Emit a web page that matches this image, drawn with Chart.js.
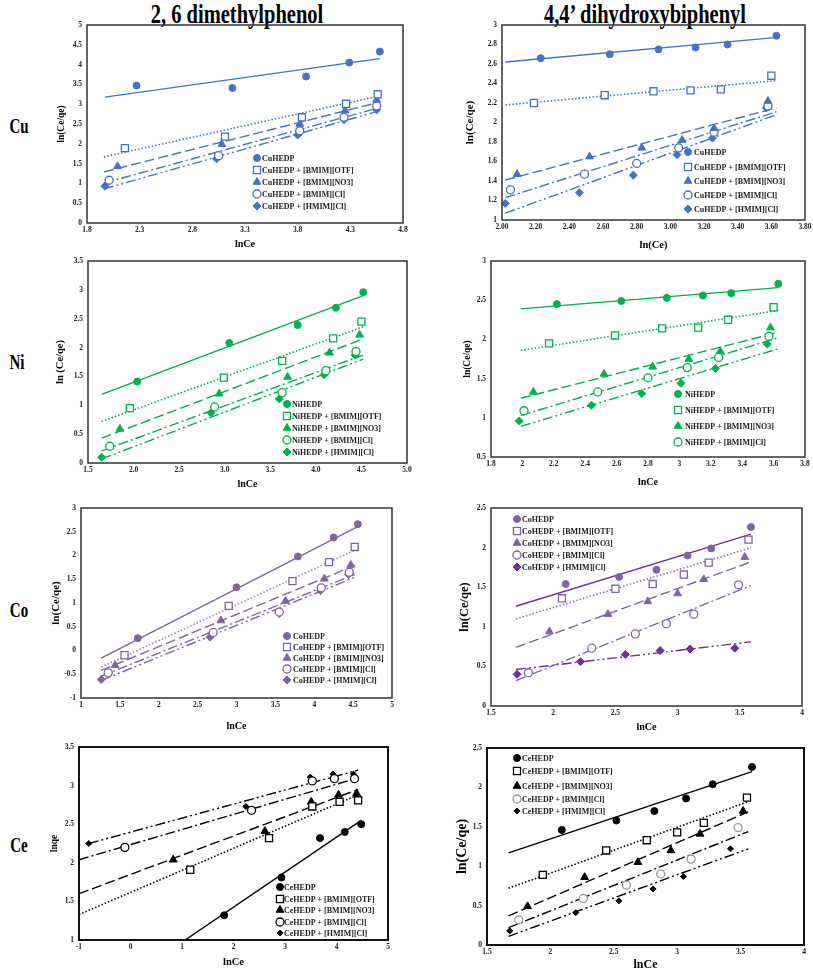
<!DOCTYPE html>
<html><head><meta charset="utf-8">
<script src="https://cdn.jsdelivr.net/npm/chart.js@4.4.1/dist/chart.umd.min.js"></script>
<style>
html,body{margin:0;padding:0;background:#fff;}
body{width:813px;height:970px;position:relative;overflow:hidden;font-family:'Liberation Serif','Times New Roman',serif;}
canvas{position:absolute;}
.t{position:absolute;font-weight:bold;white-space:nowrap;color:#000;line-height:1;}
</style></head><body>
<div class="t" style="left:237px;top:14px;font-size:20.5px;transform:translate(-50%,-50%) scale(1,1.3);">2, 6 dimethylphenol</div>
<div class="t" style="left:645px;top:14px;font-size:20.5px;transform:translate(-50%,-50%) scale(1,1.3);">4,4’ dihydroxybiphenyl</div>
<div class="t" style="left:19px;top:127px;font-size:15px;transform:translate(-50%,-50%) scale(1,1.35);">Cu</div>
<div class="t" style="left:17px;top:363px;font-size:15px;transform:translate(-50%,-50%) scale(1,1.35);">Ni</div>
<div class="t" style="left:19px;top:611px;font-size:15px;transform:translate(-50%,-50%) scale(1,1.35);">Co</div>
<div class="t" style="left:19px;top:846px;font-size:15px;transform:translate(-50%,-50%) scale(1,1.35);">Ce</div>
<script>
// ---------- labels ----------
const SERIES_SUFFIX = ['', ' + [BMIM][OTF]', ' + [BMIM][NO3]', ' + [BMIM][Cl]', ' + [HMIM][Cl]'];

// ---------- Cu, 2,6 dimethylphenol (x: lnCe, y: ln(Ce/qe)) ----------
const cuDmpHEDP = [[2.27,3.47],[3.18,3.41],[3.88,3.70],[4.29,4.05],[4.58,4.33]];
const cuDmpOTF  = [[2.16,1.89],[3.11,2.18],[3.84,2.67],[4.26,3.01],[4.56,3.25]];
const cuDmpNO3  = [[2.09,1.43],[3.08,1.99],[3.82,2.50],[4.25,2.84],[4.55,3.11]];
const cuDmpBCl  = [[2.01,1.08],[3.05,1.70],[3.82,2.33],[4.24,2.67],[4.55,2.96]];
const cuDmpHCl  = [[1.97,0.93],[3.03,1.62],[3.80,2.22],[4.24,2.61],[4.55,2.86]];
const cuDmpTrend = [[1.97,3.18,4.58,4.15],[1.96,1.67,4.56,3.20],[1.96,1.29,4.56,3.04],[1.96,1.01,4.56,2.90],[1.96,0.86,4.56,2.82]];

// ---------- Cu, 4,4' dihydroxybiphenyl ----------
const cuDhbHEDP = [[2.23,2.66],[2.64,2.70],[2.93,2.75],[3.15,2.77],[3.34,2.80],[3.63,2.89]];
const cuDhbOTF  = [[2.19,2.20],[2.61,2.28],[2.90,2.32],[3.12,2.33],[3.30,2.34],[3.60,2.48]];
const cuDhbNO3  = [[2.09,1.47],[2.52,1.65],[2.83,1.74],[3.07,1.82],[3.26,1.94],[3.58,2.22]];
const cuDhbBCl  = [[2.05,1.31],[2.49,1.47],[2.80,1.58],[3.05,1.74],[3.26,1.90],[3.58,2.17]];
const cuDhbHCl  = [[2.02,1.17],[2.46,1.28],[2.78,1.46],[3.04,1.67],[3.25,1.84],[3.57,2.15]];
const cuDhbTrend = [[2.02,2.62,3.62,2.87],[2.02,2.18,3.63,2.43],[2.02,1.41,3.63,2.15],[2.02,1.23,3.63,2.11],[2.02,1.07,3.63,2.08]];

// ---------- Ni, 2,6 dimethylphenol ----------
const niDmpHEDP = [[2.04,1.41],[3.05,2.08],[3.80,2.39],[4.22,2.69],[4.52,2.96]];
const niDmpOTF  = [[1.96,0.95],[2.99,1.48],[3.63,1.77],[4.19,2.16],[4.50,2.45]];
const niDmpNO3  = [[1.85,0.59],[2.94,1.20],[3.69,1.49],[4.15,1.91],[4.48,2.22]];
const niDmpBCl  = [[1.74,0.29],[2.89,0.97],[3.63,1.22],[4.11,1.60],[4.44,1.93]];
const niDmpHCl  = [[1.65,0.10],[2.85,0.87],[3.60,1.11],[4.09,1.53],[4.43,1.87]];
const niDmpTrend = [[1.65,1.19,4.52,2.90],[1.65,0.72,4.52,2.36],[1.65,0.43,4.52,2.15],[1.65,0.21,4.52,1.87],[1.65,0.07,4.52,1.80]];

// ---------- Ni, 4,4' dihydroxybiphenyl ----------
const niDhbHEDP = [[2.22,2.45],[2.63,2.49],[2.92,2.53],[3.15,2.56],[3.33,2.59],[3.63,2.71]];
const niDhbOTF  = [[2.17,1.95],[2.59,2.05],[2.89,2.14],[3.12,2.15],[3.31,2.25],[3.60,2.41]];
const niDhbNO3  = [[2.07,1.33],[2.52,1.56],[2.83,1.65],[3.06,1.75],[3.26,1.85],[3.58,2.15]];
const niDhbBCl  = [[2.01,1.09],[2.48,1.33],[2.80,1.51],[3.05,1.64],[3.25,1.77],[3.57,2.04]];
const niDhbHCl  = [[1.98,0.96],[2.44,1.16],[2.76,1.31],[3.01,1.44],[3.23,1.63],[3.56,1.94]];
const niDhbTrend = [[1.99,2.39,3.63,2.66],[1.99,1.86,3.63,2.37],[1.99,1.25,3.63,2.09],[1.99,1.03,3.63,2.02],[1.99,0.89,3.63,1.88]];

// ---------- Co, 2,6 dimethylphenol ----------
const coDmpHEDP = [[1.73,0.26],[3.00,1.33],[3.79,1.98],[4.25,2.38],[4.56,2.66]];
const coDmpOTF  = [[1.56,-0.10],[2.90,0.94],[3.72,1.46],[4.19,1.86],[4.52,2.18]];
const coDmpNO3  = [[1.44,-0.31],[2.80,0.63],[3.63,1.04],[4.13,1.51],[4.47,1.80]];
const coDmpBCl  = [[1.35,-0.47],[2.70,0.38],[3.55,0.81],[4.09,1.32],[4.45,1.65]];
const coDmpHCl  = [[1.26,-0.61],[2.66,0.28],[3.55,0.78],[4.08,1.26],[4.44,1.60]];
const coDmpTrend = [[1.26,-0.16,4.56,2.61],[1.26,-0.35,4.52,2.11],[1.26,-0.42,4.52,1.79],[1.26,-0.54,4.52,1.60],[1.26,-0.63,4.52,1.54]];

// ---------- Co, 4,4' dihydroxybiphenyl ----------
const coDhbHEDP = [[2.10,1.54],[2.53,1.63],[2.83,1.72],[3.08,1.90],[3.27,1.99],[3.59,2.26]];
const coDhbOTF  = [[2.07,1.36],[2.50,1.48],[2.80,1.54],[3.05,1.66],[3.25,1.81],[3.57,2.10]];
const coDhbNO3  = [[1.97,0.94],[2.44,1.16],[2.76,1.32],[3.00,1.42],[3.21,1.60],[3.54,1.88]];
const coDhbBCl  = [[1.80,0.42],[2.31,0.73],[2.66,0.91],[2.91,1.04],[3.13,1.16],[3.49,1.53]];
const coDhbHCl  = [[1.71,0.40],[2.22,0.56],[2.58,0.65],[2.86,0.70],[3.10,0.72],[3.46,0.73]];
const coDhbTrend = [[1.70,1.26,3.59,2.17],[1.70,1.10,3.59,2.00],[1.70,0.74,3.59,1.82],[1.70,0.32,3.59,1.52],[1.70,0.46,3.59,0.81]];

// ---------- Ce, 2,6 dimethylphenol (y: lnqe) ----------
const ceDmpHEDP = [[1.82,1.32],[2.93,1.81],[3.68,2.32],[4.16,2.40],[4.48,2.50]];
const ceDmpOTF  = [[1.16,1.91],[2.69,2.32],[3.53,2.73],[4.06,2.79],[4.42,2.81]];
const ceDmpNO3  = [[0.83,2.04],[2.61,2.41],[3.51,2.79],[4.04,2.88],[4.39,2.90]];
const ceDmpBCl  = [[-0.11,2.20],[2.35,2.68],[3.53,3.06],[3.96,3.09],[4.35,3.09]];
const ceDmpHCl  = [[-0.81,2.25],[2.24,2.73],[3.49,3.11],[3.93,3.15],[4.33,3.15]];
const ceDmpTrend = [[1.06,1.00,4.48,2.55],[-1.00,1.33,4.42,2.88],[-1.00,1.60,4.42,2.95],[-1.00,2.04,4.42,3.10],[-0.81,2.25,4.42,3.20]];

// ---------- Ce, 4,4' dihydroxybiphenyl ----------
const ceDhbHEDP = [[2.09,1.46],[2.52,1.58],[2.82,1.70],[3.07,1.86],[3.28,2.04],[3.59,2.26]];
const ceDhbOTF  = [[1.94,0.89],[2.44,1.20],[2.76,1.33],[3.00,1.43],[3.21,1.55],[3.55,1.87]];
const ceDhbNO3  = [[1.82,0.49],[2.27,0.86],[2.69,1.05],[2.95,1.20],[3.18,1.41],[3.52,1.70]];
const ceDhbBCl  = [[1.75,0.32],[2.26,0.59],[2.60,0.76],[2.87,0.90],[3.11,1.09],[3.48,1.49]];
const ceDhbHCl  = [[1.68,0.18],[2.20,0.41],[2.54,0.56],[2.81,0.71],[3.05,0.87],[3.42,1.22]];
const ceDhbTrend = [[1.67,1.17,3.59,2.20],[1.67,0.72,3.56,1.82],[1.67,0.37,3.56,1.69],[1.67,0.22,3.56,1.44],[1.67,0.11,3.56,1.22]];

// ---------- styles ----------
const FONT = "'Liberation Serif','Times New Roman',serif";
const MARK = [
  {ps:'circle',  r:3.5, open:false},
  {ps:'rect',    r:5,   open:true},
  {ps:'triangle',r:4.5, open:false},
  {ps:'circle',  r:4,   open:true},
  {ps:'rectRot', r:4,   open:false}
];
const DASH = [[], [1.5,2], [10,4], [10,3,2,3], [10,3,2,3,2,3]];
const fmt1 = v => v.toFixed(1);
const fmt2 = v => v.toFixed(2);
const fmtG = v => String(Math.round(v*100)/100);

function drawMarker(ctx, ps, x, y, r) {
  ctx.beginPath();
  if (ps === 'circle') ctx.arc(x, y, r, 0, Math.PI*2);
  else if (ps === 'rect') { const s = r*Math.SQRT1_2; ctx.rect(x-s, y-s, 2*s, 2*s); }
  else if (ps === 'triangle') {
    let a = 0;
    ctx.moveTo(x + Math.sin(a)*r, y - Math.cos(a)*r); a += 2*Math.PI/3;
    ctx.lineTo(x + Math.sin(a)*r, y - Math.cos(a)*r); a += 2*Math.PI/3;
    ctx.lineTo(x + Math.sin(a)*r, y - Math.cos(a)*r);
  } else if (ps === 'rectRot') {
    ctx.moveTo(x, y-r); ctx.lineTo(x+r, y); ctx.lineTo(x, y+r); ctx.lineTo(x-r, y);
  }
  ctx.closePath();
}

function panel(o) {
  const padL = 50, padT = 12, padR = 12, padB = 40;
  const cl = o.L - padL, ct = o.T - padT;
  const W = o.R - o.L + padL + padR, H = o.B - o.T + padT + padB;
  const c = document.createElement('canvas');
  c.width = W; c.height = H;
  c.style.left = cl + 'px'; c.style.top = ct + 'px';
  c.style.width = W + 'px'; c.style.height = H + 'px';
  document.body.appendChild(c);

  const datasets = [];
  o.series.forEach((pts, i) => {
    const t = o.trend[i];
    datasets.push({
      label: 'trend' + i, showLine: true,
      data: [{x:t[0], y:t[1]}, {x:t[2], y:t[3]}],
      borderColor: o.lineColors[i], borderWidth: i === 1 ? 1.6 : 1.4,
      borderDash: DASH[i], pointRadius: 0, fill: false, order: 2
    });
  });
  o.series.forEach((pts, i) => {
    const m = MARK[i];
    const col = o.markColors[i];
    datasets.push({
      label: o.metal + 'HEDP' + SERIES_SUFFIX[i], showLine: false,
      data: pts.map(p => ({x:p[0], y:p[1]})),
      pointStyle: m.ps, pointRadius: (o.radii ? o.radii[i] : m.r),
      backgroundColor: m.open ? '#fff' : col, borderColor: col,
      borderWidth: m.open ? 1.3 : 1, order: 1
    });
  });

  const tickFont = {family: FONT, size: o.tickSize || 7.5, weight: 'bold'};
  const extras = {
    id: 'extras',
    afterDraw(chart) {
      const ctx = chart.ctx, a = chart.chartArea;
      ctx.save();
      ctx.strokeStyle = o.frameColor || '#333';
      ctx.lineWidth = o.frameWidth || 1.5;
      ctx.strokeRect(a.left, a.top, a.right - a.left, a.bottom - a.top);
      ctx.fillStyle = '#000';
      ctx.textAlign = 'center'; ctx.textBaseline = 'middle';
      ctx.font = 'bold ' + o.xtSize + 'px ' + FONT;
      ctx.fillText(o.xTitle, (a.left + a.right)/2, o.xtY - ct);
      ctx.save();
      ctx.translate(o.ytX - cl, (a.top + a.bottom)/2);
      ctx.rotate(-Math.PI/2);
      ctx.font = 'bold ' + o.ytSize + 'px ' + FONT;
      ctx.fillText(o.yTitle, 0, 0);
      ctx.restore();
      // legend
      ctx.textAlign = 'left';
      ctx.font = 'bold ' + (o.lgSize || 8) + 'px ' + FONT;
      o.lgItems.forEach((i, k) => {
        const m = MARK[i];
        const x = o.lgX - cl, y = o.lgY[k] - ct;
        const r = (o.radii ? o.radii[i] : m.r);
        drawMarker(ctx, m.ps, x, y, r);
        ctx.fillStyle = m.open ? '#fff' : o.markColors[i];
        ctx.fill();
        ctx.lineWidth = m.open ? 1.3 : 1;
        ctx.strokeStyle = o.markColors[i];
        ctx.stroke();
        ctx.fillStyle = o.lgTextColor || '#222';
        ctx.fillText(o.metal + 'HEDP' + SERIES_SUFFIX[i], o.lgTX - cl, y + 0.5);
      });
      ctx.restore();
    }
  };

  new Chart(c, {
    type: 'scatter',
    data: {datasets},
    options: {
      responsive: false, animation: false, devicePixelRatio: 1, events: [],
      layout: {padding: {left: 0, top: padT, right: padR, bottom: 0}},
      plugins: {legend: {display: false}, tooltip: {enabled: false}},
      scales: {
        x: {
          type: 'linear', position: 'bottom', min: o.xMin, max: o.xMax,
          ticks: {stepSize: o.xStep, autoSkip: false, maxRotation: 0, minRotation: 0,
                  font: tickFont, color: '#222', padding: 3, callback: o.xFmt},
          grid: {display: false, drawTicks: false}, border: {display: false},
          afterFit(s) { s.height = padB; }
        },
        y: {
          type: 'linear', position: 'left', min: o.yMin, max: o.yMax,
          ticks: {stepSize: o.yStep, autoSkip: false, font: tickFont, color: '#222', padding: 5,
                  callback: o.yFmt},
          grid: {display: false, drawTicks: false}, border: {display: false},
          afterFit(s) { s.width = padL; }
        }
      }
    },
    plugins: [extras]
  });
}

const CU = '#4472C4', NI = '#00B050', CO = '#8064A2', CE = '#000000';
const ALL5 = [0,1,2,3,4];

panel({metal:'Cu', L:87, R:403, T:25, B:223,
  xMin:1.8, xMax:4.8, xStep:0.5, xFmt:fmt1, yMin:0, yMax:5, yStep:0.5, yFmt:fmtG,
  series:[cuDmpHEDP,cuDmpOTF,cuDmpNO3,cuDmpBCl,cuDmpHCl], trend:cuDmpTrend,
  markColors:[CU,CU,CU,CU,CU], lineColors:[CU,CU,CU,CU,CU],
  xTitle:'lnCe', xtY:244, xtSize:10, yTitle:'ln(Ce/qe)', ytX:62, ytSize:9.5,
  lgItems:ALL5, lgX:257, lgTX:262, lgY:[158,170,182,194,206]});

panel({metal:'Cu', L:502, R:805, T:25, B:220,
  xMin:2.0, xMax:3.8, xStep:0.2, xFmt:fmt2, yMin:1, yMax:3, yStep:0.2, yFmt:fmtG,
  series:[cuDhbHEDP,cuDhbOTF,cuDhbNO3,cuDhbBCl,cuDhbHCl], trend:cuDhbTrend,
  markColors:[CU,CU,CU,CU,CU], lineColors:[CU,CU,CU,CU,CU],
  xTitle:'ln(Ce)', xtY:245, xtSize:10.5, yTitle:'ln(Ce/qe)', ytX:470, ytSize:11,
  lgItems:ALL5, lgX:688, lgTX:694, lgY:[152,167,181,195,209]});

panel({metal:'Ni', L:88, R:407, T:261, B:463,
  xMin:1.5, xMax:5.0, xStep:0.5, xFmt:fmt1, yMin:0, yMax:3.5, yStep:0.5, yFmt:fmtG,
  series:[niDmpHEDP,niDmpOTF,niDmpNO3,niDmpBCl,niDmpHCl], trend:niDmpTrend,
  markColors:[NI,NI,NI,NI,NI], lineColors:[NI,NI,NI,NI,NI],
  xTitle:'lnCe', xtY:484, xtSize:10, yTitle:'ln (Ce/qe)', ytX:60, ytSize:10.5,
  lgItems:ALL5, lgX:287, lgTX:292, lgY:[404,416,428,440,452]});

panel({metal:'Ni', L:491, R:805, T:261, B:457,
  xMin:1.8, xMax:3.8, xStep:0.2, xFmt:fmtG, yMin:0.5, yMax:3, yStep:0.5, yFmt:fmtG,
  series:[niDhbHEDP,niDhbOTF,niDhbNO3,niDhbBCl,niDhbHCl], trend:niDhbTrend,
  markColors:[NI,NI,NI,NI,NI], lineColors:[NI,NI,NI,NI,NI],
  xTitle:'lnCe', xtY:482, xtSize:10, yTitle:'ln(Ce/qe)', ytX:468, ytSize:9.5,
  lgItems:[0,1,2,3], lgX:678, lgTX:685, lgY:[394,410,426,442]});

panel({metal:'Co', L:81, R:392, T:508, B:698,
  xMin:1, xMax:5, xStep:0.5, xFmt:fmtG, yMin:-1, yMax:3, yStep:0.5, yFmt:fmtG,
  series:[coDmpHEDP,coDmpOTF,coDmpNO3,coDmpBCl,coDmpHCl], trend:coDmpTrend,
  markColors:[CO,CO,CO,CO,CO], lineColors:[CO,'#9C86C0',CO,CO,CO],
  xTitle:'lnCe', xtY:726, xtSize:10, yTitle:'ln(Ce/qe)', ytX:56, ytSize:11,
  lgItems:ALL5, lgX:287, lgTX:293, lgY:[636,647,658,669,680]});

panel({metal:'Co', L:491, R:802, T:508, B:706,
  xMin:1.5, xMax:4, xStep:0.5, xFmt:fmtG, yMin:0, yMax:2.5, yStep:0.5, yFmt:fmtG,
  series:[coDhbHEDP,coDhbOTF,coDhbNO3,coDhbBCl,coDhbHCl], trend:coDhbTrend,
  markColors:[CO,CO,CO,CO,'#7030A0'], lineColors:['#7030A0','#9966CC',CO,CO,'#7030A0'],
  xTitle:'lnCe', xtY:727, xtSize:10, yTitle:'ln(Ce/qe)', ytX:465, ytSize:12.5,
  lgItems:ALL5, lgX:517, lgTX:522, lgY:[519,531,543,555,567]});

panel({metal:'Ce', L:79, R:388, T:747, B:940,
  xMin:-1, xMax:5, xStep:1, xFmt:fmtG, yMin:1, yMax:3.5, yStep:0.5, yFmt:fmtG,
  series:[ceDmpHEDP,ceDmpOTF,ceDmpNO3,ceDmpBCl,ceDmpHCl], trend:ceDmpTrend,
  markColors:[CE,CE,CE,CE,CE], lineColors:[CE,CE,CE,CE,CE], radii:[3.5,5,4.5,4,3],
  frameColor:'#111', frameWidth:2,
  xTitle:'lnCe', xtY:962, xtSize:10.5, yTitle:'lnqe', ytX:55, ytSize:9.5,
  lgItems:ALL5, lgX:280, lgTX:284, lgY:[887,899,910,922,933]});

panel({metal:'Ce', L:487, R:804, T:748, B:945,
  xMin:1.5, xMax:4, xStep:0.5, xFmt:fmtG, yMin:0, yMax:2.5, yStep:0.5, yFmt:fmtG,
  series:[ceDhbHEDP,ceDhbOTF,ceDhbNO3,ceDhbBCl,ceDhbHCl], trend:ceDhbTrend,
  markColors:[CE,CE,CE,'#999999',CE], lineColors:[CE,CE,CE,CE,CE], radii:[3.5,5,4.5,4,3],
  frameColor:'#111', frameWidth:2,
  xTitle:'lnCe', xtY:965, xtSize:12, yTitle:'ln(Ce/qe)', ytX:462, ytSize:14,
  lgItems:ALL5, lgX:517, lgTX:522, lgY:[758,771,786,799,811]});
</script>
</body></html>
